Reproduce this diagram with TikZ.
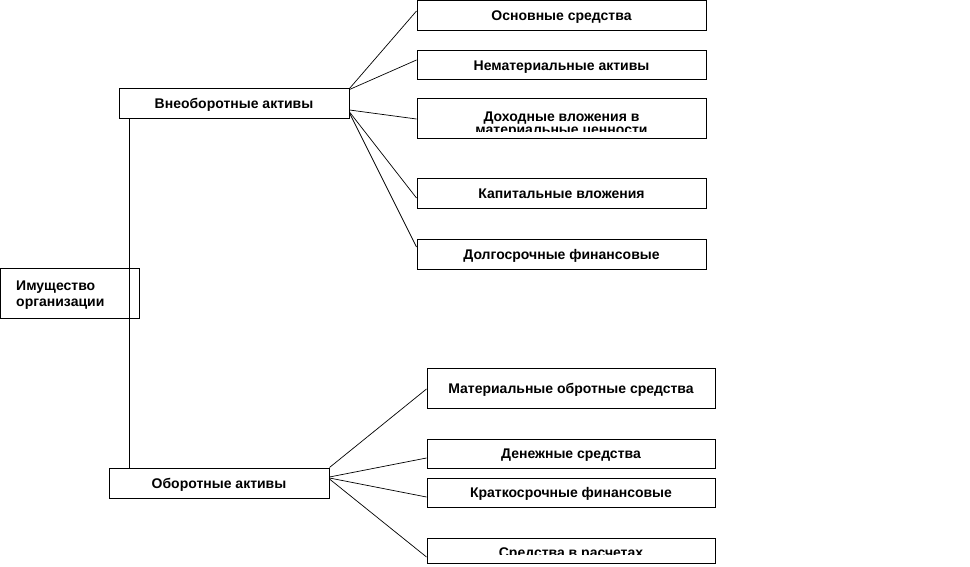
\documentclass[tikz,border=0pt]{standalone}
\usepackage{fontspec}
\setmainfont{Liberation Sans}
\begin{document}
\begin{tikzpicture}[x=1pt,y=-1pt,
  box/.style={draw,line width=1pt,inner sep=0pt,text height=10pt,text depth=0pt,font=\bfseries\fontsize{14}{16}\selectfont},
  txt/.style={inner sep=0pt,font=\bfseries\fontsize{14}{16}\selectfont},
  conn/.style={line width=0.7pt}]
\useasboundingbox (0,0) rectangle (970,567);
% main boxes
\node[box,minimum width=139pt,minimum height=50pt] (org) at (69.5,293) {};
\node[txt,anchor=base west] (orgA) at (16,290) {Имущество};
\node[txt,anchor=base west] (orgB) at (16,306) {организации};
\node[box,minimum width=230pt,minimum height=30pt] (vne) at (234,104) {Внеоборотные активы};
\node[box,minimum width=220pt,minimum height=30pt] (obo) at (219,483) {Оборотные активы};
% top group
\node[box,minimum width=289pt,minimum height=30pt] (osn) at (561.5,16) {Основные средства};
\node[box,minimum width=289pt,minimum height=29pt] (nem) at (561.5,65.5) {Нематериальные активы};
\node[box,minimum width=289pt,minimum height=40pt] (doh) at (561.5,119) {};
\begin{scope}
  \clip ([yshift=-1pt]doh.north west) rectangle ([yshift=8pt]doh.south east);
  \node[txt,anchor=base] (dohA) at (561.5,122) {Доходные вложения в};
  \node[txt,anchor=base] (dohB) at (561.5,134.5) {материальные ценности};
\end{scope}
\node[box,minimum width=289pt,minimum height=30pt] (kap) at (561.5,194) {Капитальные вложения};
\node[box,minimum width=289pt,minimum height=30pt] (dol) at (561.5,254) {Долгосрочные финансовые};
% bottom group
\node[box,minimum width=288pt,minimum height=40pt] (mat) at (571,388) {Материальные обротные средства};
\node[box,minimum width=288pt,minimum height=29pt] (den) at (571,453.5) {Денежные средства};
\node[box,minimum width=288pt,minimum height=29pt] (kra) at (571,492.5) {Краткосрочные финансовые};
\node[box,minimum width=288pt,minimum height=25pt] (sre) at (571,550.5) {};
\begin{scope}
  \clip ([yshift=-1pt]sre.north west) rectangle ([yshift=9pt]sre.south east);
  \node[txt,anchor=base] (sreA) at (571,557) {Средства в расчетах};
\end{scope}
% trunk
\draw[line width=1pt] (vne.south -| org.north east) ++(-10,0) coordinate (t1) -- (t1 |- obo.north);
% connectors from vne
\draw[conn] (vne.north east) -- ([yshift=5pt]osn.west);
\draw[conn] ([yshift=-1pt]vne.north east) -- ([yshift=5.5pt]nem.west);
\draw[conn] ([yshift=-6pt]vne.east) -- (doh.west);
\draw[conn] ([yshift=-8pt]vne.east) -- ([yshift=-4pt]kap.west);
\draw[conn] ([yshift=-9pt]vne.east) -- ([yshift=7pt]dol.west);
% connectors from obo
\draw[conn] (obo.north east) -- ([yshift=-1pt]mat.west);
\draw[conn] ([yshift=6pt]obo.east) -- ([yshift=-4.5pt]den.west);
\draw[conn] ([yshift=5pt]obo.east) -- ([yshift=-4.5pt]kra.west);
\draw[conn] ([yshift=4pt]obo.east) -- ([yshift=-6.5pt]sre.west);
\end{tikzpicture}
\end{document}
